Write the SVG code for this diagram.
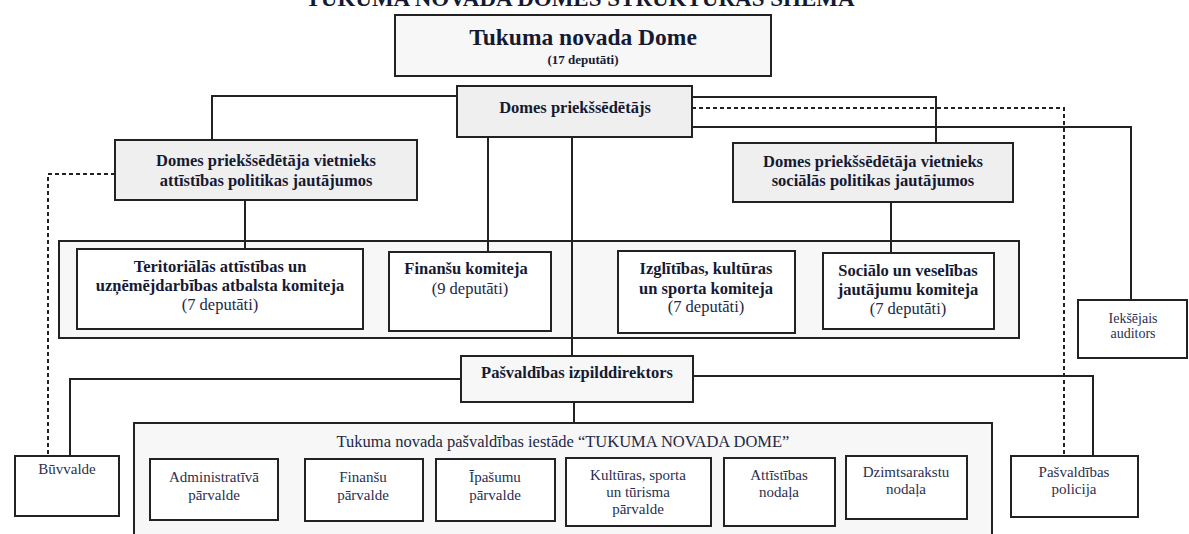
<svg xmlns="http://www.w3.org/2000/svg" width="1189" height="534" viewBox="0 0 1189 534">
<style>
.box{stroke:#222;stroke-width:2;fill:#fff}
.lt{fill:#f7f7f7}
.gr{fill:#efefef}
.b{font-family:"Liberation Serif","Times New Roman",serif;font-weight:bold;font-size:16.5px;fill:#151a33;text-anchor:middle}
.r{font-family:"Liberation Serif","Times New Roman",serif;font-size:16.5px;fill:#232844;text-anchor:middle}
.s{font-family:"Liberation Serif","Times New Roman",serif;font-size:15px;fill:#2a3050;text-anchor:middle}
.ln{stroke:#222;stroke-width:2;fill:none}
.dl{stroke:#222;stroke-width:2;fill:none;stroke-dasharray:4 3}
</style>
<rect width="1189" height="534" fill="#fff"/>
<text x="580" y="6" class="b" style="font-size:23px">TUKUMA NOVADA DOMES STRUKTŪRAS SHĒMA</text>

<g id="dome">
<rect class="box lt" x="395" y="15" width="376" height="61"/>
<text class="b" x="583" y="45" style="font-size:23.5px">Tukuma novada Dome</text>
<text class="b" x="583" y="64" style="font-size:13px">(17 deputāti)</text>
</g>
<g id="priekssedetajs">
<rect class="box gr" x="457" y="86" width="235" height="51"/>
<text class="b" x="575" y="113">Domes priekšsēdētājs</text>
</g>
<g id="vietnieks-attistibas">
<rect class="box gr" x="115" y="140" width="302" height="60"/>
<text class="b" x="266" y="166">Domes priekšsēdētāja vietnieks</text>
<text class="b" x="266" y="186">attīstības politikas jautājumos</text>
</g>
<g id="vietnieks-socialas">
<rect class="box gr" x="733" y="143" width="280" height="59"/>
<text class="b" x="873" y="167">Domes priekšsēdētāja vietnieks</text>
<text class="b" x="873" y="186">sociālās politikas jautājumos</text>
</g>
<g id="komitejas">
<rect class="box lt" x="59" y="241" width="960" height="97"/>
</g>
<g id="teritorialas-komiteja">
<rect class="box" x="77" y="249" width="286" height="80"/>
<text class="b" x="220" y="272">Teritoriālās attīstības un</text>
<text class="b" x="220" y="291">uzņēmējdarbības atbalsta komiteja</text>
<text class="r" x="220" y="310">(7 deputāti)</text>
</g>
<g id="finansu-komiteja">
<rect class="box" x="389" y="252" width="162" height="79"/>
<text class="b" x="466" y="274">Finanšu komiteja</text>
<text class="r" x="470" y="294">(9 deputāti)</text>
</g>
<g id="izglitibas-komiteja">
<rect class="box" x="618" y="251" width="177" height="82"/>
<text class="b" x="706" y="274">Izglītības, kultūras</text>
<text class="b" x="706" y="294">un sporta komiteja</text>
<text class="r" x="706" y="312">(7 deputāti)</text>
</g>
<g id="socialo-komiteja">
<rect class="box" x="823" y="253" width="171" height="76"/>
<text class="b" x="908" y="276">Sociālo un veselības</text>
<text class="b" x="908" y="295">jautājumu komiteja</text>
<text class="r" x="908" y="314">(7 deputāti)</text>
</g>
<g id="auditors">
<rect class="box" x="1078" y="300" width="109" height="58"/>
<text class="s" x="1133" y="323" style="font-size:14px">Iekšējais</text>
<text class="s" x="1133" y="338" style="font-size:14px">auditors</text>
</g>
<g id="izpilddirektors">
<rect class="box lt" x="461" y="356" width="232" height="46"/>
<text class="b" x="577" y="378">Pašvaldības izpilddirektors</text>
</g>
<g id="iestade">
<rect class="box lt" x="134" y="423" width="858" height="130"/>
<text class="r" x="563" y="447">Tukuma novada pašvaldības iestāde “TUKUMA NOVADA DOME”</text>
</g>
<g id="buvvalde">
<rect class="box" x="15" y="456" width="104" height="60"/>
<text class="s" x="67" y="474">Būvvalde</text>
</g>
<g id="administrativa">
<rect class="box" x="150" y="459" width="128" height="61"/>
<text class="s" x="214" y="482">Administratīvā</text>
<text class="s" x="214" y="500">pārvalde</text>
</g>
<g id="finansu-parvalde">
<rect class="box" x="305" y="459" width="118" height="62"/>
<text class="s" x="363" y="482">Finanšu</text>
<text class="s" x="363" y="500">pārvalde</text>
</g>
<g id="ipasumu">
<rect class="box" x="436" y="459" width="119" height="62"/>
<text class="s" x="495" y="482">Īpašumu</text>
<text class="s" x="495" y="500">pārvalde</text>
</g>
<g id="kulturas">
<rect class="box" x="566" y="458" width="145" height="68"/>
<text class="s" x="638" y="480">Kultūras, sporta</text>
<text class="s" x="638" y="497">un tūrisma</text>
<text class="s" x="638" y="514">pārvalde</text>
</g>
<g id="attistibas-nodala">
<rect class="box" x="724" y="458" width="111" height="68"/>
<text class="s" x="779" y="480">Attīstības</text>
<text class="s" x="779" y="497">nodaļa</text>
</g>
<g id="dzimtsarakstu">
<rect class="box" x="846" y="456" width="121" height="63"/>
<text class="s" x="906" y="477">Dzimtsarakstu</text>
<text class="s" x="906" y="494">nodaļa</text>
</g>
<g id="policija">
<rect class="box" x="1011" y="456" width="127" height="61"/>
<text class="s" x="1074" y="477">Pašvaldības</text>
<text class="s" x="1074" y="494">policija</text>
</g>

<g id="connectors">
<polyline class="ln" points="457,96 212,96 212,140"/>
<polyline class="ln" points="692,97 936,97 936,143"/>
<polyline class="dl" points="692,108 1064,108 1064,456"/>
<polyline class="ln" points="692,127 1131,127 1131,300"/>
<line class="ln" x1="488" y1="137" x2="488" y2="252"/>
<line class="ln" x1="572" y1="137" x2="572" y2="356"/>
<line class="ln" x1="245" y1="200" x2="245" y2="249"/>
<line class="ln" x1="891" y1="202" x2="891" y2="253"/>
<polyline class="dl" points="115,174 48,174 48,456"/>
<polyline class="ln" points="461,379 70,379 70,456"/>
<polyline class="ln" points="693,376 1093,376 1093,456"/>
<line class="ln" x1="574" y1="402" x2="574" y2="423"/>
</g>
</svg>
